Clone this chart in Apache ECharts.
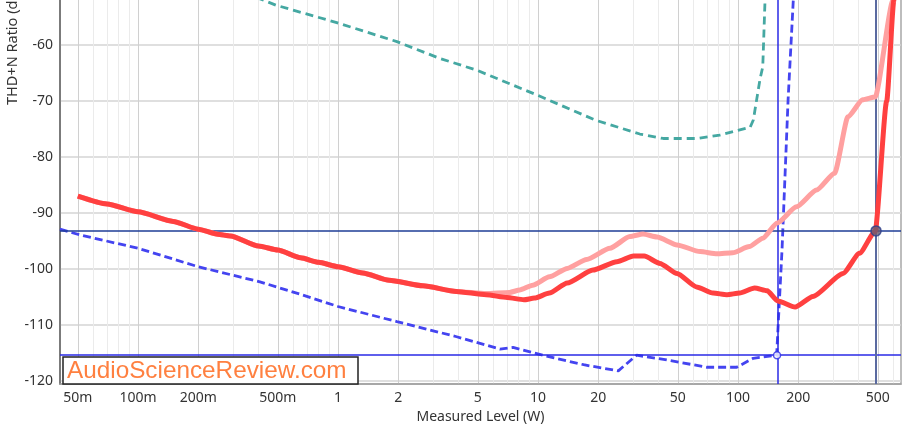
<!DOCTYPE html>
<html><head><meta charset="utf-8">
<script src="https://cdn.jsdelivr.net/npm/echarts@6/dist/echarts.min.js"></script>
<style>html,body{margin:0;padding:0;background:#fff}#c{width:923px;height:424px}</style>
</head><body><div id="c"></div>
<script>
// ---- axis ticks ----
const xMajorTicks = [0.05,0.1,0.2,0.5,1,2,5,10,20,50,100,200,500];
const xMajorLabels = ['50m','100m','200m','500m','1','2','5','10','20','50','100','200','500'];
const xMinorTicks = [0.06,0.07,0.08,0.09,0.3,0.4,0.6,0.7,0.8,0.9,3,4,6,7,8,9,30,40,60,70,80,90,300,400,600];
const yTicks = [-120,-110,-100,-90,-80,-70,-60];

// ---- series (Measured Level W, THD+N dB) ----
const redW  = [0.05,0.07,0.1,0.15,0.2,0.25,0.29,0.4,0.5,0.65,0.8,1,1.33,1.8,2.66,3.9,5.5,7,8.5,9.6,11.4,14,18.8,24.8,30,34,40.7,49.6,62,75,88,102,121,140,158,193,237,335,405,485,554,602,630];
const redDb = [-87,-88.4,-89.8,-91.5,-92.9,-93.8,-94.1,-95.9,-96.6,-98,-98.8,-99.6,-100.7,-102,-103,-104,-104.6,-105.1,-105.5,-105.2,-104.3,-102.5,-100.2,-98.7,-97.7,-97.7,-99,-100.8,-103.2,-104.3,-104.6,-104.3,-103.4,-103.9,-105.7,-106.8,-104.9,-100.8,-97.2,-93.3,-70,-52,-44];

const pinkW  = [0.05,0.07,0.1,0.15,0.2,0.25,0.29,0.4,0.5,0.65,0.8,1,1.33,1.8,2.66,3.9,5.5,7.2,8.1,9.4,11.4,14,17.5,22.9,28.8,33.5,39.4,49.6,64.6,78.5,94,114,133,157,196,247,304,355,420,485,596,625];
const pinkDb = [-87,-88.4,-89.8,-91.5,-92.9,-93.8,-94.1,-95.9,-96.6,-98,-98.8,-99.6,-100.7,-102,-103,-104,-104.4,-104.2,-103.75,-102.9,-101.4,-99.9,-98.3,-96.3,-94.2,-93.75,-94.3,-95.7,-96.9,-97.3,-97.1,-96,-94.5,-91.8,-88.9,-85.9,-82.9,-72.8,-69.8,-69.3,-52,-46];

const tealW  = [0.39,0.49,0.985,1.97,3.23,4.94,9.83,19.3,32.3,42.3,62.3,81,115,119.3,129,133,136.5,140];
const tealDb = [-51.5,-52.9,-56,-59.4,-62.4,-64.5,-68.9,-73.4,-75.9,-76.7,-76.7,-76.1,-74.7,-73.4,-66,-63.9,-52,-46];

const blueW  = [0.0407,0.051,0.1,0.2,0.407,0.646,1.0,1.97,3.92,6.45,7.5,10.6,16.9,25.2,31.1,44,70,98.5,119,156,166,178,189,195];
const blueDb = [-92.9,-93.9,-96.3,-99.6,-102.3,-104.5,-106.7,-109.4,-112.1,-114.3,-114.0,-115.4,-117.1,-118.2,-115.4,-116.25,-117.55,-117.55,-115.95,-115.4,-96.6,-69.8,-52,-44];

// ---- cursors ----
const cursorA = [156.7, -115.4];
const cursorB = [490, -93.2];

const L = v => Math.log10(v);
const pairs = (xs, ys) => xs.map((x, i) => [L(x), ys[i]]);
const FONT = 'Noto Sans';

const chart = echarts.init(document.getElementById('c'), null, {renderer: 'canvas'});
chart.setOption({
  animation: false,
  backgroundColor: '#fff',
  grid: {left: 60, right: 22, top: -1, bottom: 40, show: true, borderColor: '#a8a8a8', borderWidth: 1.5,
    containLabel: false, outerBoundsMode: 'none'},
  xAxis: [{
    type: 'value', min: -1.39, max: 2.815, position: 'bottom',
    name: 'Measured Level (W)', nameLocation: 'middle', nameGap: 22,
    nameTextStyle: {fontFamily: FONT, fontSize: 14, color: '#333'},
    axisLine: {show: true, onZero: false, lineStyle: {color: '#a0a0a0', width: 1.5}},
    axisTick: {show: false, customValues: xMajorTicks.map(L)},
    axisLabel: {customValues: xMajorTicks.map(L), margin: 7, fontFamily: FONT, fontSize: 14, color: '#333',
      formatter: v => { const i = xMajorTicks.findIndex(t => Math.abs(L(t) - v) < 1e-6); return i >= 0 ? xMajorLabels[i] : ''; }},
    splitLine: {show: true, lineStyle: {color: '#d0d0d0', width: 1}}
  }, {
    type: 'value', min: -1.39, max: 2.815, position: 'bottom',
    axisLine: {show: false, onZero: false}, axisLabel: {show: false},
    axisTick: {show: false, customValues: xMinorTicks.map(L)},
    splitLine: {show: true, lineStyle: {color: '#ebebeb', width: 1}}
  }],
  yAxis: {
    type: 'value', min: -120.54, max: -51.79,
    axisLine: {show: true, onZero: false, lineStyle: {color: '#666', width: 1.5}},
    axisTick: {show: false, customValues: yTicks},
    axisLabel: {customValues: yTicks, margin: 7, fontFamily: FONT, fontSize: 14, color: '#333'},
    splitLine: {show: true, lineStyle: {color: '#d4d4d4', width: 1.5}}
  },
  graphic: [
    {type: 'text', x: 13, y: 105, rotation: Math.PI / 2, z: 100,
      style: {text: 'THD+N Ratio (dB)', fontFamily: FONT, fontSize: 14.5, fill: '#333', textAlign: 'left', textVerticalAlign: 'middle'}},
    {type: 'rect', shape: {x: 63, y: 357, width: 295, height: 27}, z: 100,
      style: {fill: '#fff', stroke: '#222', lineWidth: 1.5}},
    {type: 'text', x: 67, y: 371.5, z: 101,
      style: {text: 'AudioScienceReview.com', fontFamily: 'Liberation Sans', fontSize: 24.3, fill: '#ff8040', textAlign: 'left', textVerticalAlign: 'middle'}}
  ],
  series: [
    {type: 'line', name: 'teal', data: pairs(tealW, tealDb), showSymbol: false, symbol: 'none', z: 3,
      lineStyle: {color: '#45a8a2', width: 2.8, type: [8, 5]}},
    {type: 'line', name: 'blue', data: pairs(blueW, blueDb), showSymbol: false, symbol: 'none', z: 4,
      lineStyle: {color: '#4444f0', width: 2.8, type: [8, 4]}},
    {type: 'line', name: 'pink', data: pairs(pinkW, pinkDb), showSymbol: false, symbol: 'none', z: 5, smooth: 0.2, smoothMonotone: 'x',
      lineStyle: {color: '#ffa0a0', width: 5}},
    {type: 'line', name: 'red', data: pairs(redW, redDb), showSymbol: false, symbol: 'none', z: 6, smooth: 0.2, smoothMonotone: 'x',
      lineStyle: {color: '#ff4040', width: 5}},
    {type: 'line', name: 'cursors', data: [], z: 8, silent: true,
      markLine: {symbol: 'none', silent: true, animation: false, label: {show: false},
        data: [
          {xAxis: L(cursorA[0]), lineStyle: {color: '#2a2ae6', width: 1.5, type: 'solid'}},
          {yAxis: cursorA[1], lineStyle: {color: '#2a2ae6', width: 1.5, type: 'solid'}},
          {xAxis: L(cursorB[0]), lineStyle: {color: '#5a6aa0', width: 2, type: 'solid'}},
          {yAxis: cursorB[1], lineStyle: {color: '#1e3c96', width: 1.5, type: 'solid'}}
        ]}},
    {type: 'scatter', z: 9, silent: true,
      data: [
        {value: [L(cursorA[0]), cursorA[1]], symbolSize: 7, itemStyle: {color: '#fff', borderColor: '#2a2ae6', borderWidth: 1.5}},
        {value: [L(cursorB[0]), cursorB[1]], symbolSize: 10, itemStyle: {color: '#6a5a70', borderColor: '#2c3e8c', borderWidth: 1.5}}
      ]}
  ]
});
</script></body></html>
